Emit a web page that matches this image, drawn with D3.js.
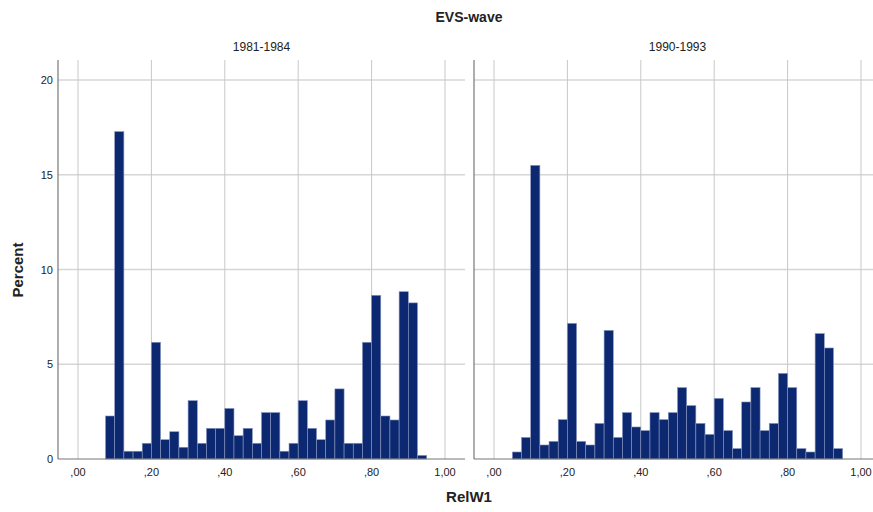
<!DOCTYPE html>
<html>
<head>
<meta charset="utf-8">
<script src="https://cdn.jsdelivr.net/npm/d3@7"></script>
<style>
  body { margin: 0; background: #fff; }
  svg { font-family: "Liberation Sans", Arial, sans-serif; }
</style>
</head>
<body>
<div id="chart"></div>
<script>

// bins are 0.025 wide, value = left edge of bin
var binWidth = 0.025;
var panels = ["1981-1984", "1990-1993"];

var startA = 0.075;
var pctA = [2.27, 17.28, 0.41, 0.41, 0.83, 6.16, 1.02, 1.44, 0.62, 3.08,
            0.83, 1.62, 1.62, 2.67, 1.23, 1.62, 0.83, 2.45, 2.45, 0.41,
            0.83, 3.08, 1.62, 1.02, 2.06, 3.70, 0.83, 0.83, 6.16, 8.64,
            2.27, 2.06, 8.83, 8.24, 0.19];

var startB = 0.05;
var pctB = [0.37, 1.14, 15.5, 0.74, 0.93, 2.08, 7.16, 0.93, 0.74, 1.88,
            6.79, 1.14, 2.45, 1.69, 1.50, 2.45, 2.08, 2.45, 3.77, 2.82,
            1.88, 1.30, 3.20, 1.50, 0.55, 3.01, 3.77, 1.50, 1.88, 4.52,
            3.77, 0.55, 0.37, 6.62, 5.86, 0.55];

var xTicks = [0, 0.2, 0.4, 0.6, 0.8, 1.0];
var yTicks = [0, 5, 10, 15, 20];

var width = 873, height = 512;
var plotTop = 60, plotBottom = 459;
var panelLeft = [58, 474];
var panelW = 407;

var svg = d3.select("#chart")
  .append("svg")
    .attr("width", width)
    .attr("height", height);

var y = d3.scaleLinear()
  .domain([0, 21.06])
  .range([plotBottom, plotTop]);

var fmtX = function(d) {
  var s = d3.format(".2f")(d).replace(".", ",");
  return s.replace(/^0,/, ",");
};

var datasets = [
  pctA.map(function(v, i) { return { x0: startA + i * binWidth, v: v }; }),
  pctB.map(function(v, i) { return { x0: startB + i * binWidth, v: v }; })
];

panels.forEach(function(name, p) {
  var x = d3.scaleLinear()
    .domain([-0.0545, 1.0545])
    .range([panelLeft[p], panelLeft[p] + panelW]);

  var g = svg.append("g");

  // horizontal grid
  g.selectAll(".hgrid")
    .data(yTicks.filter(function(d) { return d > 0; }))
    .enter()
    .append("line")
      .attr("x1", x.range()[0]).attr("x2", x.range()[1])
      .attr("y1", function(d) { return y(d); })
      .attr("y2", function(d) { return y(d); })
      .attr("stroke", "#d6d6d6")
      .attr("stroke-width", 1.5);

  // vertical grid
  g.selectAll(".vgrid")
    .data(xTicks)
    .enter()
    .append("line")
      .attr("x1", function(d) { return x(d); })
      .attr("x2", function(d) { return x(d); })
      .attr("y1", plotTop).attr("y2", plotBottom)
      .attr("stroke", "#c8c8c8")
      .attr("stroke-width", 1);

  g.selectAll("rect.bar")
    .data(datasets[p])
    .enter()
    .append("rect")
      .attr("class", "bar")
      .attr("x", function(d) { return x(d.x0); })
      .attr("y", function(d) { return y(d.v); })
      .attr("width", function(d) { return x(d.x0 + binWidth) - x(d.x0); })
      .attr("height", function(d) { return plotBottom - y(d.v); })
      .attr("fill", "#0b2870")
      .attr("stroke", "#8896c0")
      .attr("stroke-width", 0.6);

  // axes lines
  g.append("line")
    .attr("x1", x.range()[0]).attr("x2", x.range()[0])
    .attr("y1", plotTop).attr("y2", plotBottom)
    .attr("stroke", "#777").attr("stroke-width", 1.2);
  g.append("line")
    .attr("x1", x.range()[0]).attr("x2", x.range()[1])
    .attr("y1", plotBottom).attr("y2", plotBottom)
    .attr("stroke", "#777").attr("stroke-width", 1.2);

  // x tick labels
  g.selectAll(".xlab")
    .data(xTicks)
    .enter()
    .append("text")
      .attr("x", function(d) { return x(d); })
      .attr("y", 476)
      .attr("text-anchor", "middle")
      .style("font-size", "11px")
      .attr("fill", "#222")
      .text(fmtX);

  svg.append("text")
    .attr("x", x.range()[0] + panelW / 2)
    .attr("y", 51)
    .attr("text-anchor", "middle")
    .style("font-size", "12px")
    .attr("fill", "#222")
    .text(name);
});

// y tick labels, left panel only
svg.selectAll(".ylab")
  .data(yTicks)
  .enter()
  .append("text")
    .attr("x", 53)
    .attr("y", function(d) { return y(d) + 4; })
    .attr("text-anchor", "end")
    .style("font-size", "11px")
    .attr("fill", "#222")
    .text(function(d) { return d; });

svg.append("text")
  .attr("x", 469).attr("y", 22)
  .attr("text-anchor", "middle")
  .style("font-size", "14px")
  .style("font-weight", "bold")
  .attr("fill", "#222")
  .text("EVS-wave");

svg.append("text")
  .attr("x", 469).attr("y", 502)
  .attr("text-anchor", "middle")
  .style("font-size", "15px")
  .style("font-weight", "bold")
  .attr("fill", "#222")
  .text("RelW1");

svg.append("text")
  .attr("transform", "translate(23,270)rotate(-90)")
  .attr("text-anchor", "middle")
  .style("font-size", "15px")
  .style("font-weight", "bold")
  .attr("fill", "#222")
  .text("Percent");

</script>
</body>
</html>
